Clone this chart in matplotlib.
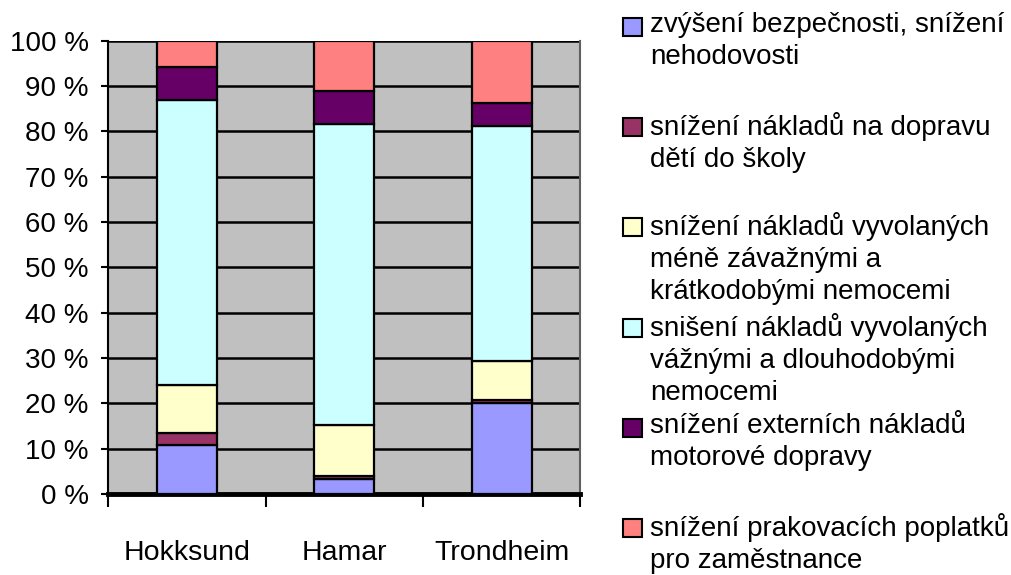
import matplotlib.pyplot as plt
from matplotlib.patches import Rectangle
import numpy as np

plt.rcParams['font.family'] = ['Liberation Sans', 'DejaVu Sans']

# data
cities = ['Hokksund', 'Hamar', 'Trondheim']
bezpecnost = [10.8, 3.2, 20.0]
skola = [2.7, 0.8, 0.8]
kratkodobe = [10.5, 11.2, 8.6]
dlouhodobe = [63.0, 66.5, 51.8]
externi = [7.2, 7.3, 5.0]
parkovani = [5.8, 11.0, 13.8]

series = [bezpecnost, skola, kratkodobe, dlouhodobe, externi, parkovani]
colors = ['#9999FF', '#993366', '#FFFFCC', '#CCFFFF', '#660066', '#FF8080']
labels = [
    'zvýšení bezpečnosti, snížení\nnehodovosti',
    'snížení nákladů na dopravu\ndětí do školy',
    'snížení nákladů vyvolaných\nméně závažnými a\nkrátkodobými nemocemi',
    'snišení nákladů vyvolaných\nvážnými a dlouhodobými\nnemocemi',
    'snížení externích nákladů\nmotorové dopravy',
    'snížení prakovacích poplatků\npro zaměstnance',
]
yticks = np.arange(0, 101, 10)
ytick_labels = ['%d %%' % v for v in yticks]

fig = plt.figure(figsize=(10.11, 5.75), dpi=100)
ax = fig.add_axes([0.107, 0.141, 0.467, 0.788])
ax.set_facecolor('#C0C0C0')

x = np.arange(len(cities))
bottom = np.zeros(len(cities))
for vals, col in zip(series, colors):
    ax.bar(x, vals, width=0.38, bottom=bottom, color=col,
           edgecolor='black', linewidth=1.6, zorder=3)
    bottom += np.array(vals)

ax.set_xlim(-0.5, 2.5)
ax.set_ylim(0, 100)
ax.set_yticks(yticks)
ax.set_yticklabels(ytick_labels, fontsize=20)
ax.yaxis.grid(True, color='black', linewidth=1.8, zorder=1)
ax.set_axisbelow(True)

ax.set_xticks(x)
ax.set_xticklabels(cities, fontsize=20.5)
ax.set_xticks([-0.5, 0.5, 1.5, 2.5], minor=True)
ax.tick_params(axis='x', which='major', length=0, pad=33)
ax.tick_params(axis='x', which='minor', length=9, width=1.5, direction='out')
ax.tick_params(axis='y', length=5, width=1.5, pad=9)

ax.spines['bottom'].set_linewidth(3.5)
ax.spines['left'].set_linewidth(1.5)
ax.spines['top'].set_visible(False)
ax.spines['right'].set_color('#606060')
ax.spines['right'].set_linewidth(1.5)

# legend, placed by hand like the original
for i, (lab, col) in enumerate(zip(labels, colors)):
    ytop_px = 12 + i * 100.2
    fig.patches.append(Rectangle((623 / 1011, 1 - (ytop_px + 24) / 575), 19 / 1011, 18 / 575,
                                 transform=fig.transFigure, facecolor=col,
                                 edgecolor='black', linewidth=1.5))
    fig.text(650 / 1011, 1 - ytop_px / 575, lab, fontsize=20, va='top', ha='left',
             linespacing=1.3)

fig.savefig('out.png', dpi=100)
